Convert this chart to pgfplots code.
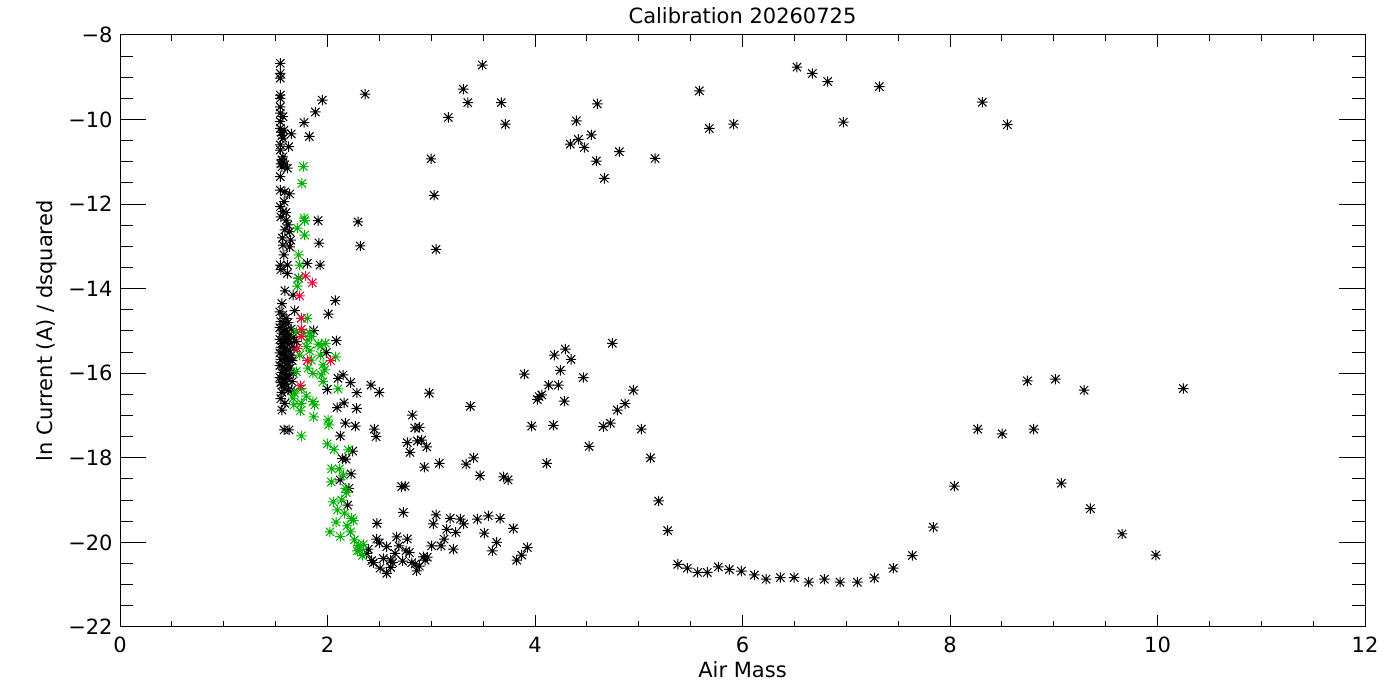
\documentclass[border=0pt]{standalone}
\usepackage{fontspec}
\setmainfont{DejaVu Sans}
\usepackage{pgfplots}
\pgfplotsset{compat=1.18}
\definecolor{idlgreen}{RGB}{0,176,0}
\definecolor{idlred}{RGB}{235,10,60}
\pgfdeclareplotmark{idlstar}{%
  \pgfpathmoveto{\pgfqpoint{-\pgfplotmarksize}{0pt}}\pgfpathlineto{\pgfqpoint{\pgfplotmarksize}{0pt}}%
  \pgfpathmoveto{\pgfqpoint{0pt}{-\pgfplotmarksize}}\pgfpathlineto{\pgfqpoint{0pt}{\pgfplotmarksize}}%
  \pgfpathmoveto{\pgfqpoint{-.8\pgfplotmarksize}{-.8\pgfplotmarksize}}\pgfpathlineto{\pgfqpoint{.8\pgfplotmarksize}{.8\pgfplotmarksize}}%
  \pgfpathmoveto{\pgfqpoint{-.8\pgfplotmarksize}{.8\pgfplotmarksize}}\pgfpathlineto{\pgfqpoint{.8\pgfplotmarksize}{-.8\pgfplotmarksize}}%
  \pgfusepathqstroke}
\pgfplotstableread{
x y
1.545 -8.67
1.545 -8.91
1.545 -9.02
1.545 -9.42
1.545 -9.50
1.545 -9.70
1.545 -9.85
1.545 -10.05
1.545 -10.21
1.545 -10.60
1.545 -10.72
1.545 -11.35
1.545 -11.67
1.545 -12.06
1.545 -13.44
1.571 -9.93
1.581 -10.25
1.651 -10.34
1.571 -10.44
1.626 -10.64
1.571 -10.88
1.571 -11.00
1.588 -11.07
1.613 -11.15
1.588 -11.71
1.636 -11.76
1.581 -11.94
1.571 -12.18
1.603 -12.38
1.619 -12.49
1.588 -12.61
1.636 -12.65
1.645 -12.85
1.571 -12.97
1.636 -13.01
1.613 -13.44
1.613 -13.64
1.722 -13.75
1.668 -14.15
1.561 -14.35
1.684 -14.52
1.555 -10.30
1.560 -10.38
1.550 -11.05
1.560 -11.12
1.560 -10.95
1.550 -12.30
1.565 -12.80
1.580 -13.20
1.550 -13.55
1.600 -12.20
1.590 -14.05
1.54 -14.55
1.57 -14.62
1.60 -14.70
1.55 -14.78
1.58 -14.85
1.62 -14.80
1.54 -14.92
1.60 -14.98
1.65 -14.95
1.56 -15.05
1.59 -15.12
1.63 -15.10
1.67 -15.15
1.54 -15.20
1.58 -15.25
1.61 -15.30
1.65 -15.28
1.55 -15.38
1.59 -15.42
1.63 -15.45
1.68 -15.40
1.54 -15.52
1.57 -15.55
1.61 -15.60
1.65 -15.58
1.55 -15.68
1.59 -15.72
1.62 -15.75
1.66 -15.70
1.54 -15.82
1.57 -15.85
1.60 -15.90
1.64 -15.88
1.56 -15.98
1.59 -16.02
1.63 -16.05
1.67 -16.00
1.54 -16.10
1.58 -16.15
1.61 -16.12
1.55 -16.22
1.60 -16.25
1.57 -15.00
1.62 -15.18
1.58 -15.48
1.60 -15.65
1.56 -15.30
1.64 -15.65
1.70 -15.25
1.66 -16.20
1.59 -16.35
1.56 -16.45
1.62 -16.40
1.55 -16.60
1.950 -9.54
2.362 -9.40
1.883 -9.82
1.774 -10.07
1.825 -10.40
1.909 -12.39
2.294 -12.42
1.918 -12.92
2.316 -12.99
1.928 -13.44
1.805 -13.40
2.075 -14.28
2.008 -14.60
1.867 -14.99
2.085 -15.23
1.989 -15.51
2.101 -16.12
2.150 -16.04
2.222 -16.22
1.998 -16.38
2.419 -16.28
2.499 -16.45
2.282 -16.46
2.159 -16.70
2.092 -16.81
2.280 -16.83
2.172 -17.18
2.268 -17.25
2.451 -17.32
2.468 -17.50
2.123 -17.48
1.581 -17.34
1.629 -17.34
1.561 -16.87
1.588 -16.71
1.651 -16.40
1.561 -16.28
2.143 -18.02
2.178 -18.03
2.243 -17.84
2.227 -18.38
2.121 -18.52
2.207 -18.72
2.195 -19.12
2.477 -19.55
2.474 -19.92
2.499 -20.01
2.667 -19.87
2.571 -20.10
2.769 -19.92
2.689 -20.08
2.393 -20.16
2.378 -20.26
2.757 -20.20
2.789 -20.24
2.651 -20.26
2.538 -20.38
2.426 -20.43
2.442 -20.48
2.609 -20.42
2.629 -20.48
2.725 -20.44
2.812 -20.48
2.844 -20.51
2.885 -20.56
2.923 -20.34
2.962 -20.35
2.940 -20.42
2.506 -20.61
2.609 -20.59
2.571 -20.73
2.860 -20.67
2.981 -16.47
2.818 -16.99
2.841 -17.29
2.885 -17.28
2.769 -17.64
2.866 -17.60
2.908 -17.58
2.956 -17.74
2.795 -17.87
2.933 -18.22
3.078 -18.13
2.715 -18.68
2.747 -18.67
2.731 -19.29
3.046 -19.35
3.020 -19.56
3.181 -19.43
3.280 -19.45
3.313 -19.56
3.444 -19.45
3.550 -19.37
3.663 -19.43
3.791 -19.67
3.511 -19.78
3.236 -19.76
3.149 -19.69
3.123 -19.92
3.631 -20.00
3.589 -20.20
3.926 -20.12
3.872 -20.30
3.824 -20.42
3.213 -20.16
3.094 -20.08
3.004 -20.08
3.377 -16.78
2.998 -10.93
3.027 -11.79
3.046 -13.07
3.164 -9.95
3.309 -9.28
3.352 -9.60
3.492 -8.71
3.675 -9.60
3.714 -10.11
3.897 -16.02
4.132 -16.28
4.039 -16.55
3.968 -17.25
4.113 -18.13
3.335 -18.15
3.409 -18.00
3.470 -18.42
3.698 -18.45
3.740 -18.52
4.745 -15.29
4.292 -15.43
4.186 -15.57
4.347 -15.67
4.244 -15.93
4.466 -16.10
4.225 -16.28
4.065 -16.51
4.022 -16.62
4.283 -16.66
4.948 -16.40
4.868 -16.72
4.794 -16.87
4.726 -17.18
4.659 -17.26
5.025 -17.32
4.177 -17.23
4.521 -17.73
5.113 -18.00
4.601 -9.63
4.398 -10.03
4.543 -10.36
4.418 -10.47
4.340 -10.58
4.475 -10.66
4.813 -10.76
4.591 -10.98
4.668 -11.39
5.157 -10.92
5.584 -9.32
5.680 -10.21
5.915 -10.11
6.525 -8.76
6.673 -8.91
6.821 -9.10
7.319 -9.22
6.972 -10.06
8.312 -9.59
8.553 -10.12
5.192 -19.02
5.279 -19.72
5.376 -20.52
5.468 -20.61
5.568 -20.71
5.661 -20.71
5.767 -20.58
5.873 -20.64
5.989 -20.68
6.114 -20.77
6.227 -20.87
6.365 -20.83
6.497 -20.83
6.638 -20.94
6.789 -20.87
6.940 -20.94
7.107 -20.94
7.271 -20.84
7.454 -20.61
7.637 -20.31
7.839 -19.64
8.746 -16.18
9.016 -16.14
9.292 -16.40
10.249 -16.36
8.267 -17.32
8.502 -17.43
8.807 -17.32
8.042 -18.67
9.073 -18.60
9.353 -19.20
9.658 -19.80
9.983 -20.30
}\blackdata
\pgfplotstableread{
x y
1.767 -11.11
1.754 -11.51
1.774 -12.33
1.780 -12.39
1.709 -12.57
1.780 -12.73
1.722 -13.20
1.732 -13.44
1.722 -13.75
1.709 -13.94
1.748 -14.70
1.805 -14.70
1.699 -15.02
1.764 -15.04
1.829 -15.05
1.844 -15.13
1.812 -15.21
1.909 -15.31
1.979 -15.29
1.940 -15.35
1.796 -15.37
1.829 -15.47
1.931 -15.57
2.079 -15.61
1.844 -15.69
1.732 -15.57
1.957 -15.80
1.812 -15.88
1.973 -15.92
1.940 -16.04
1.860 -16.00
1.699 -15.96
1.957 -16.20
2.101 -16.37
1.748 -16.36
1.684 -16.47
1.668 -16.59
1.796 -16.54
1.860 -16.67
1.877 -16.75
1.748 -16.71
1.677 -16.75
1.738 -16.89
1.867 -17.03
2.005 -17.10
2.012 -17.22
1.748 -17.48
1.998 -17.67
2.063 -17.80
2.201 -17.81
2.040 -18.26
2.114 -18.26
2.152 -18.41
2.037 -18.57
2.174 -18.72
2.182 -18.82
2.056 -19.04
2.137 -19.00
2.095 -19.23
2.164 -19.31
2.233 -19.43
2.249 -19.48
2.082 -19.52
2.024 -19.75
2.188 -19.61
2.222 -19.75
2.123 -19.86
2.260 -19.94
2.297 -20.07
2.345 -20.05
2.309 -20.19
2.336 -20.31
2.287 -20.20
}\greendata
\pgfplotstableread{
x y
1.790 -13.70
1.854 -13.86
1.732 -14.17
1.748 -14.70
1.748 -14.96
1.748 -15.13
1.709 -15.41
1.805 -15.70
2.031 -15.70
1.738 -16.29
}\reddata
\begin{document}
\begin{tikzpicture}
\pgfplotsset{
  idlframe/.style={
    scale only axis, width=622.5pt, height=296pt,
    xmin=0, xmax=12, ymin=-22, ymax=-8,
    axis line style={line width=0.5pt},
    every tick/.style={black, line width=0.5pt},
    tick align=inside,
    font=\fontsize{10.5}{12}\selectfont,
  }
}
\begin{axis}[idlframe,
  xtick={0,2,4,6,8,10,12},
  xticklabels={0,2,4,6,8,10,12},
  minor x tick num=3,
  ytick=\empty,
  major tick length=6pt, minor tick length=3pt,
  xtick pos=both,
  xticklabel style={anchor=center, yshift=-9pt},
  xlabel={Air Mass},
  every axis x label/.style={at={(axis description cs:0.5,-0.0726)}, anchor=center},
  title={Calibration 20260725},
  every axis title/.style={at={(axis description cs:0.5,1.0329)}, anchor=center},
  mark size=2.6pt,
  clip=true,
]
\addplot[only marks, mark=idlstar, black, line width=0.5pt] table {\blackdata};
\addplot[only marks, mark=idlstar, idlgreen, line width=0.5pt] table {\greendata};
\addplot[only marks, mark=idlstar, idlred, line width=0.5pt] table {\reddata};
\end{axis}
\begin{axis}[idlframe,
  xtick=\empty,
  ytick={-22,-20,-18,-16,-14,-12,-10,-8},
  yticklabels={−22,−20,−18,−16,−14,−12,−10,−8},
  minor y tick num=3,
  major tick length=12.8pt, minor tick length=6.4pt,
  ytick pos=both,
  yticklabel style={anchor=east, xshift=-3.5pt, inner sep=0pt},
  ylabel={ln Current (A) / dsquared},
  every axis y label/.style={at={(axis description cs:-0.0586,0.5)}, rotate=90, anchor=center},
]
\end{axis}
\pgfresetboundingbox
\path[use as bounding box] ([shift={(-60pt,-36.5pt)}]current axis.south west) rectangle ([shift={(17.5pt,17.5pt)}]current axis.north east);
\end{tikzpicture}
\end{document}
